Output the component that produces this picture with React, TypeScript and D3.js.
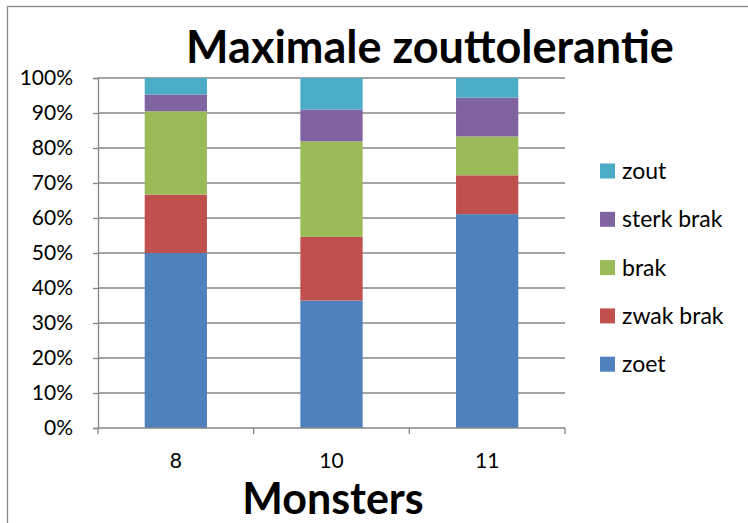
import React, { useEffect, useRef } from "react";
import * as d3 from "d3";

const categories = ["8", "10", "11"];
const seriesNames = ["zoet", "zwak brak", "brak", "sterk brak", "zout"];
const zoet = [50.0, 36.4, 61.1];
const zwakBrak = [16.7, 18.2, 11.1];
const brak = [23.8, 27.3, 11.1];
const sterkBrak = [4.8, 9.1, 11.1];
const zout = [4.7, 9.0, 5.6];
const yTicks = [0, 10, 20, 30, 40, 50, 60, 70, 80, 90, 100];
const colors = ["#4F81BD", "#C0504D", "#9BBB59", "#8064A2", "#4BACC6"];

const App = () => {
  const svgRef = useRef<SVGSVGElement>(null);

  useEffect(() => {
    const width = 748;
    const height = 523;
    const font = "Lato, 'Open Sans', sans-serif";
    const margin = { top: 78, right: 183, bottom: 95, left: 98 };

    const svg = d3.select(svgRef.current);
    svg.selectAll("*").remove();
    svg.attr("viewBox", [0, 0, width, height]).style("font-family", font);

    svg.append("rect").attr("width", width).attr("height", height).attr("fill", "#fff");

    // outer chart border
    svg
      .append("rect")
      .attr("x", 7.5)
      .attr("y", 6.5)
      .attr("width", width)
      .attr("height", height)
      .attr("fill", "none")
      .attr("stroke", "#878787")
      .attr("stroke-width", 1.3);

    const table = categories.map((c, i) => ({
      cat: c,
      "zoet": zoet[i],
      "zwak brak": zwakBrak[i],
      "brak": brak[i],
      "sterk brak": sterkBrak[i],
      "zout": zout[i],
    }));

    const stack = d3.stack<any>().keys(seriesNames);
    const stacked = stack(table);

    const x = d3
      .scaleBand()
      .domain(categories)
      .range([margin.left, width - margin.right])
      .padding(0);

    const y = d3
      .scaleLinear()
      .domain([0, 100])
      .range([height - margin.bottom, margin.top]);

    const color = d3.scaleOrdinal<string>().domain(seriesNames).range(colors);

    // gridlines
    svg
      .append("g")
      .selectAll("line")
      .data(yTicks.slice(1))
      .join("line")
      .attr("x1", margin.left)
      .attr("x2", width - margin.right)
      .attr("y1", (d) => y(d))
      .attr("y2", (d) => y(d))
      .attr("stroke", "#868686")
      .attr("stroke-width", 1.3);

    // Y axis
    svg
      .append("g")
      .attr("transform", `translate(${margin.left},0)`)
      .call(
        d3
          .axisLeft(y)
          .tickValues(yTicks)
          .tickSize(5)
          .tickFormat((d) => `${d}%`)
      )
      .call((g) => g.select(".domain").attr("stroke", "#868686").attr("stroke-width", 1.3))
      .call((g) => g.selectAll(".tick line").attr("stroke", "#868686").attr("stroke-width", 1.3))
      .call((g) =>
        g
          .selectAll("text")
          .attr("x", -25)
          .attr("fill", "#000")
          .style("font-size", "21px")
          .style("font-family", font)
      );

    // bars
    svg
      .append("g")
      .selectAll("g")
      .data(stacked)
      .join("g")
      .attr("fill", (d) => color(d.key))
      .selectAll("rect")
      .data((d) => d)
      .join("rect")
      .attr("x", (d: any) => x(d.data.cat)! + x.bandwidth() * 0.3)
      .attr("width", x.bandwidth() * 0.4)
      .attr("y", (d) => y(d[1]))
      .attr("height", (d) => y(d[0]) - y(d[1]));

    // X axis
    const xAxisY = height - margin.bottom;
    svg
      .append("line")
      .attr("x1", margin.left)
      .attr("x2", width - margin.right)
      .attr("y1", xAxisY)
      .attr("y2", xAxisY)
      .attr("stroke", "#868686")
      .attr("stroke-width", 1.3);

    const boundaries = [...categories.map((c) => x(c)!), width - margin.right];
    svg
      .append("g")
      .selectAll("line")
      .data(boundaries)
      .join("line")
      .attr("x1", (d) => d)
      .attr("x2", (d) => d)
      .attr("y1", xAxisY)
      .attr("y2", xAxisY + 6)
      .attr("stroke", "#868686")
      .attr("stroke-width", 1.3);

    svg
      .append("g")
      .selectAll("text")
      .data(categories)
      .join("text")
      .attr("x", (d) => x(d)! + x.bandwidth() / 2)
      .attr("y", xAxisY + 40)
      .attr("text-anchor", "middle")
      .style("font-size", "21px")
      .text((d) => d);

    // title
    svg
      .append("text")
      .attr("x", 430)
      .attr("y", 63)
      .attr("text-anchor", "middle")
      .style("font-size", "45px")
      .style("font-weight", "bold")
      .text("Maximale zouttolerantie");

    // axis title
    svg
      .append("text")
      .attr("x", 333)
      .attr("y", 514)
      .attr("text-anchor", "middle")
      .style("font-size", "43px")
      .style("font-weight", "bold")
      .text("Monsters");

    // legend
    const legendItems = [...seriesNames].reverse();
    const legend = svg
      .append("g")
      .selectAll("g")
      .data(legendItems)
      .join("g")
      .attr("transform", (d, i) => `translate(600,${171 + i * 48.3})`);

    legend
      .append("rect")
      .attr("x", 0)
      .attr("y", -7.5)
      .attr("width", 15)
      .attr("height", 15)
      .attr("fill", (d) => color(d));

    legend
      .append("text")
      .attr("x", 22)
      .attr("y", 0)
      .attr("dy", "0.35em")
      .style("font-size", "23px")
      .text((d) => d);
  }, []);

  return (
    <>
      <style>{"body{margin:0}"}</style>
      <svg ref={svgRef} width={748} height={523} style={{ display: "block" }} />
    </>
  );
};

export default App;
